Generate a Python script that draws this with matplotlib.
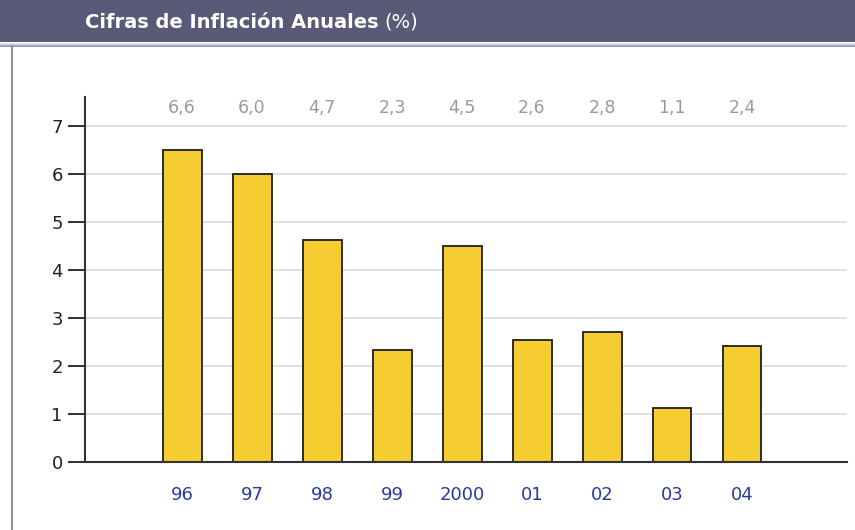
import matplotlib
matplotlib.use("Agg")
import matplotlib.pyplot as plt
from matplotlib.patches import Rectangle
from matplotlib.lines import Line2D

years = ["96", "97", "98", "99", "2000", "01", "02", "03", "04"]
inflation = [6.5, 6.0, 4.62, 2.33, 4.5, 2.54, 2.71, 1.12, 2.42]
value_labels = ["6,6", "6,0", "4,7", "2,3", "4,5", "2,6", "2,8", "1,1", "2,4"]
y_ticks = [0, 1, 2, 3, 4, 5, 6, 7]

fig = plt.figure(figsize=(8.55, 5.3), dpi=100)
fig.set_facecolor("white")

# header bar
fig.patches.append(Rectangle((0, 1 - 42 / 530), 1, 42 / 530, transform=fig.transFigure,
                             facecolor="#5a5a78", edgecolor="none"))
fig.lines.append(Line2D([0, 1], [1 - 43.5 / 530] * 2, transform=fig.transFigure,
                        color="#d8d8e0", lw=1.2))
fig.lines.append(Line2D([0, 1], [1 - 46 / 530] * 2, transform=fig.transFigure,
                        color="#a0a0bc", lw=1.5))
fig.lines.append(Line2D([11.5 / 855] * 2, [0, 1 - 46 / 530], transform=fig.transFigure,
                        color="#9090ac", lw=1.5))

ax = fig.add_axes([85 / 855, 1 - 462 / 530, (847 - 85) / 855, (462 - 97) / 530])

title = fig.text(85 / 855, 1 - 22 / 530, "Cifras de Inflación Anuales", color="white",
                 fontsize=14, fontweight="bold", va="center", ha="left")
# place "(%)" right after the bold part
fig.canvas.draw()
bb = title.get_window_extent().transformed(fig.transFigure.inverted())
fig.text(bb.x1 + 6 / 855, 1 - 22 / 530, "(%)", color="white", fontsize=14,
         va="center", ha="left")

x = list(range(len(years)))
ax.bar(x, inflation, width=0.557, color="#f5cd30", edgecolor="#1e1e1e", linewidth=1.3, zorder=3)

for xi, lab in zip(x, value_labels):
    ax.text(xi, 7.375, lab, ha="center", va="center", color="#9a9a9a", fontsize=12.5)

ax.set_xlim(-1.386, 9.5)
ax.set_ylim(0, 7.6)
ax.set_yticks(y_ticks)
ax.set_yticklabels([str(t) for t in y_ticks], fontsize=13, color="#222222")
ax.set_xticks(x)
ax.set_xticklabels(years, fontsize=13, color="#2a3a9c")
ax.tick_params(axis="x", length=0, pad=17)
ax.tick_params(axis="y", length=12, width=1.3, color="#222222", pad=4)

for t in y_ticks[1:]:
    ax.axhline(t, color="#dcdcdc", lw=1.2, zorder=1)

for s in ["top", "right"]:
    ax.spines[s].set_visible(False)
ax.spines["left"].set_color("#333333")
ax.spines["left"].set_linewidth(1.5)
ax.spines["bottom"].set_color("#333333")
ax.spines["bottom"].set_linewidth(1.5)
ax.spines["bottom"].set_zorder(4)

fig.savefig("out.png", dpi=100)
